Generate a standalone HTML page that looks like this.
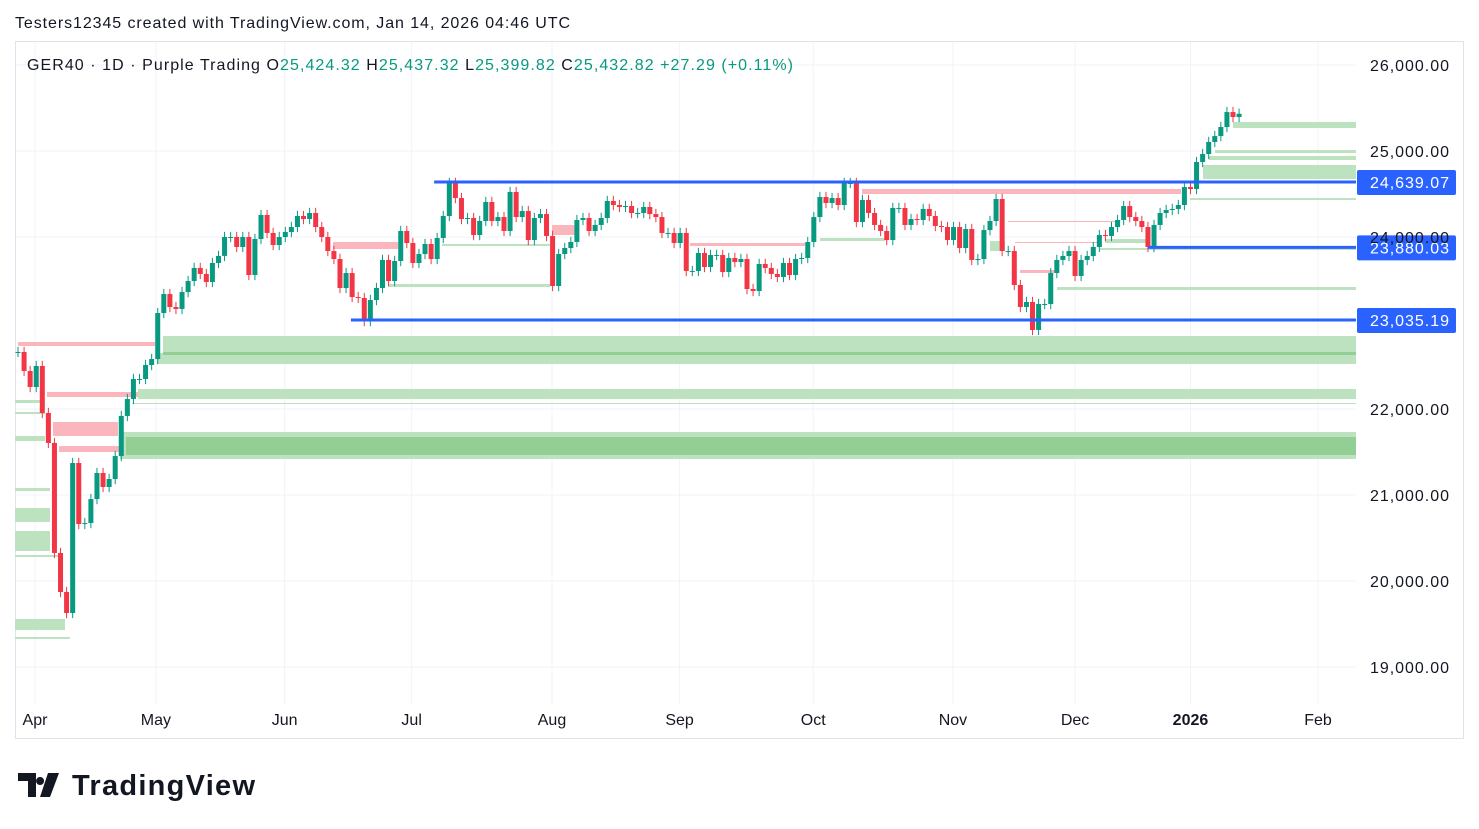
<!DOCTYPE html>
<html><head><meta charset="utf-8">
<style>
body{margin:0;background:#fff;width:1479px;height:829px;overflow:hidden;font-family:"Liberation Sans",sans-serif;}
svg{position:absolute;left:0;top:0}
</style></head>
<body>
<svg id="chart" width="1479" height="829">
<rect x="15.5" y="41.5" width="1448" height="697" fill="#fff" stroke="#e0e3eb"/>
<g id="grid"></g><g id="zones"></g><g id="candles"></g><g id="levels"></g><g id="axis"></g>
<text x="15" y="28" font-size="16" fill="#131722" textLength="555">Testers12345 created with TradingView.com, Jan 14, 2026 04:46 UTC</text>
<text x="27" y="70" font-size="16" textLength="766"><tspan fill="#131722">GER40 · 1D · Purple Trading  O</tspan><tspan fill="#089981">25,424.32 </tspan><tspan fill="#131722"> H</tspan><tspan fill="#089981">25,437.32 </tspan><tspan fill="#131722"> L</tspan><tspan fill="#089981">25,399.82 </tspan><tspan fill="#131722"> C</tspan><tspan fill="#089981">25,432.82  +27.29 (+0.11%)</tspan></text>
<g>
<path d="M18 773h18v24h-8v-16h-10z M40 777a4 4 0 1 0 0.1 0z M48 773h11l-9 24h-10z" fill="#131722"/>
<text x="72" y="795" font-size="29" font-weight="bold" fill="#131722" textLength="183">TradingView</text>
</g>
</svg>
<script>
const closes=[22663,22442,22256,22500,21954,21605,20326,19872,19628,21372,20663,20674,20953,21256,21093,21186,21453,21919,22116,22349,22349,22512,22581,23116,23337,23186,23163,23360,23488,23640,23570,23477,23698,23780,24000,24000,23884,24000,23558,23977,24256,24047,23907,24000,24058,24116,24244,24209,24279,24116,24000,23837,23744,23407,23581,23302,23291,23023,23267,23407,23733,23488,23721,24070,23930,23698,23802,23919,23744,23988,24244,24628,24453,24209,24221,24023,24186,24407,24186,24232,24070,24523,24232,24302,23965,24221,24267,24012,23430,23802,23872,23942,24198,24221,24070,24140,24221,24419,24372,24349,24360,24279,24279,24349,24267,24232,24047,24047,23930,24047,23605,23605,23814,23651,23791,23791,23593,23756,23709,23744,23395,23372,23686,23640,23570,23535,23698,23558,23744,23756,23942,24232,24465,24395,24453,24372,24628,24628,24174,24430,24279,24140,24070,23965,24337,24337,24140,24209,24198,24326,24244,24128,24116,23965,24116,23872,24093,23733,23744,24081,24186,24442,23837,23837,23442,23186,23244,22919,23221,23221,23581,23733,23779,23837,23547,23733,23779,23884,24023,24012,24116,24198,24360,24232,24186,24116,23884,24140,24279,24314,24326,24372,24581,24558,24872,24965,25105,25174,25279,25453,25395,25433];
const priceTicks=[26000,25000,24000,22000,21000,20000,19000];
const monthLabels=["Apr","May","Jun","Jul","Aug","Sep","Oct","Nov","Dec","2026","Feb"];
const monthBars=[2.8,22.7,43.9,64.8,87.9,108.9,130.9,153.9,174,193,214];
const levels=[24639.07,23880.03,23035.19];
const levelStartBars=[68.5,186,54.8];

const NS="http://www.w3.org/2000/svg";
const X=i=>18+i*6.075;
const Y=p=>65+(26000-p)*0.086;
function mk(par,tag,a){const e=document.createElementNS(NS,tag);for(const k in a)e.setAttribute(k,a[k]);document.getElementById(par).appendChild(e);return e;}
const fmt=v=>v.toLocaleString('en-US',{minimumFractionDigits:2,maximumFractionDigits:2});

priceTicks.forEach(p=>{
 const l=mk('grid','line',{x1:16,x2:1356,y1:Y(p),y2:Y(p),stroke:'#f0f3fa'});
 
 
 const t=mk('axis','text',{x:1370,y:Y(p)+6,'font-size':16,textLength:79,fill:'#131722'});
 t.textContent=fmt(p);
 
 
});
monthLabels.forEach((m,i)=>{
 const x=X(monthBars[i]);
 const l=mk('grid','line',{x1:x,x2:x,y1:42,y2:705,stroke:'#f0f3fa'});
 
 
 const t=mk('axis','text',{x:x,y:725,'font-size':16,'text-anchor':'middle',fill:'#131722','font-weight':m==='2026'?'bold':'normal'});
 t.textContent=m;
 
 
});

const G='#bde2bf',D='#93cf95',R='#fbb5bd';
const zoneRects=[[163,1356,336,356,G],[157,1356,353,364,G],[163,1356,352,355,D],[18,155,342,346,R],[47,155,392,397,R],[138,1356,389,399,G],[132,1356,403,404,G],[120,1356,432,459,G],[126,1356,437,455,D],[53,118,422,436,R],[59,120,446,452,R],[15,50,488,491,G],[15,50,508,522,G],[15,50,531,551,G],[15,58,555,557,G],[15,65,619,630,G],[15,70,637,639,G],[15,40,400,403,G],[15,45,412,414,G],[15,45,436,441,G],[862,1181,189,194,R],[333,398,242,249,R],[552,575,225,235,R],[690,805,243,246,R],[1008,1120,221,222,R],[1015,1097,242,243,R],[1020,1057,270,273,R],[442,550,244,246,G],[388,550,284,287,G],[820,885,238,241,G],[1057,1356,287,290,G],[1190,1356,198,200,G],[1100,1356,248,250,G],[1233,1356,122,128,G],[1215,1356,150,153,G],[1209,1356,156,160,G],[1203,1356,165,179,G],[1105,1148,239,243,G],[990,1005,241,251,G]];
zoneRects.forEach(z=>{
 const r=mk('zones','rect',{x:z[0],y:z[2],width:z[1]-z[0],height:z[3]-z[2],fill:z[4]});
 
 
});

closes.forEach((c,i)=>{
 const o=i?closes[i-1]:c;
 const up=c>=o,col=up?'#089981':'#f23645';
 const hi=Math.max(o,c)+60,lo=Math.min(o,c)-60;
 const x=X(i);
 const w=mk('candles','line',{x1:x,x2:x,y1:Y(hi),y2:Y(lo),stroke:col,'stroke-width':1});
 
 
 const b=mk('candles','rect',{x:x-2.5,y:Y(Math.max(o,c)),width:5,height:Math.max(1,Math.abs(Y(o)-Y(c))),fill:col});
 
 
});

levels.forEach((p,i)=>{
 const y=Y(p);
 const l=mk('levels','line',{x1:X(levelStartBars[i]),x2:1356,y1:y,y2:y,stroke:'#2962ff','stroke-width':3});
 
 
 const r=mk('levels','rect',{x:1357,y:y-12,width:99,height:25,rx:2,fill:'#2962ff'});
 
 
 const t=mk('levels','text',{x:1370,y:y+6,'font-size':16,textLength:79,fill:'#fff'});
 t.textContent=fmt(p);
 
 
});
</script>
</body></html>
